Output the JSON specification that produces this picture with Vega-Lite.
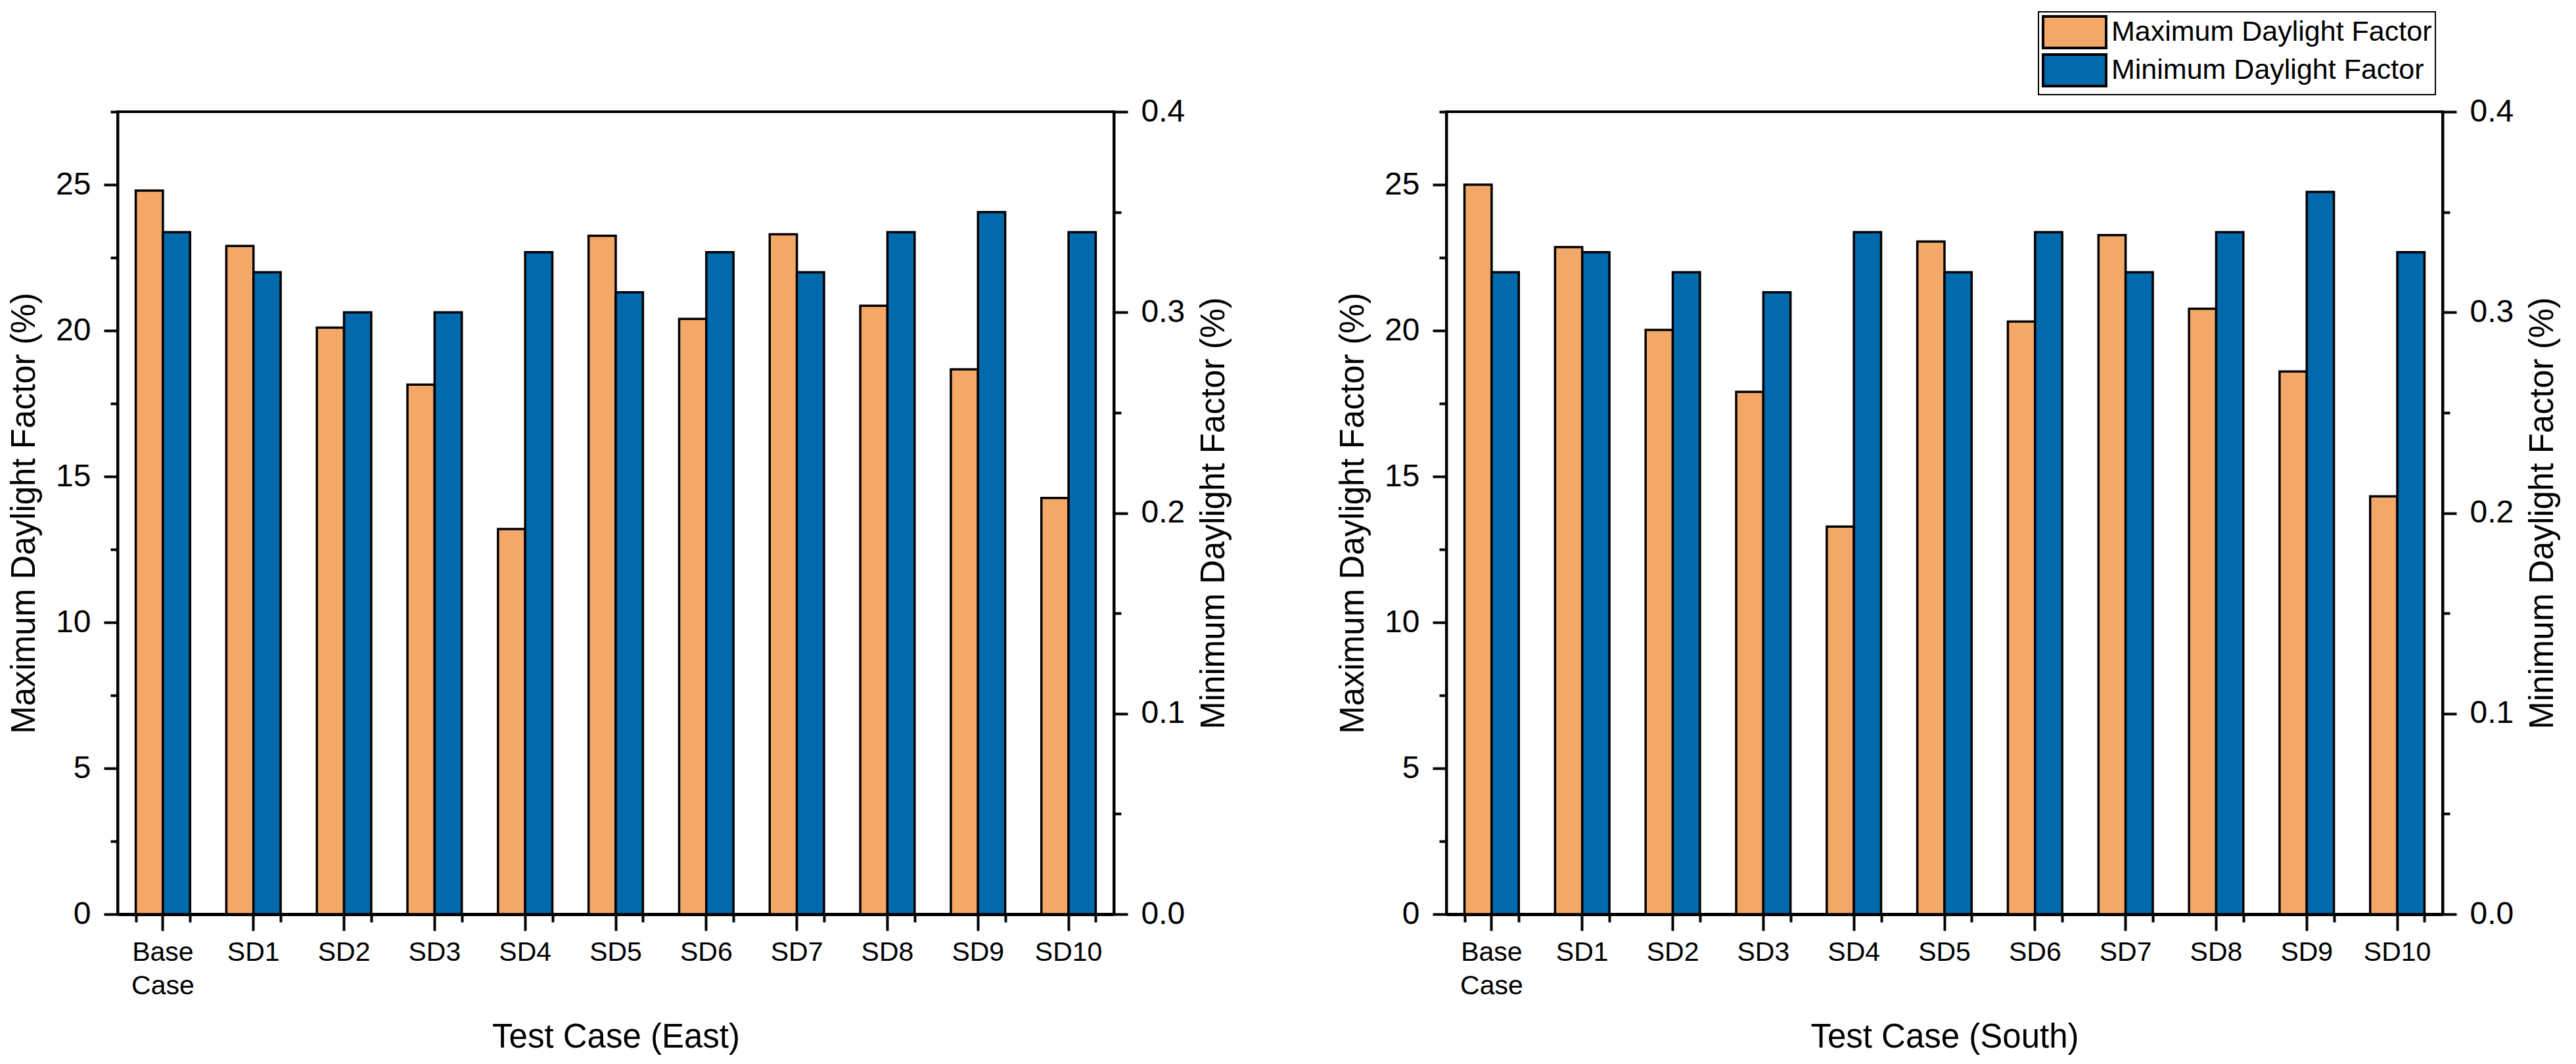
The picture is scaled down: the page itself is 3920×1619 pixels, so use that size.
{
  "$schema": "https://vega.github.io/schema/vega-lite/v6.json",
  "background": "white",
  "padding": {"left": 9, "top": 15, "right": 31, "bottom": 5},
  "spacing": 156,
  "datasets": {
    "east": [
      {"case": "Base Case", "series": "Maximum Daylight Factor", "value": 24.8},
      {"case": "SD1", "series": "Maximum Daylight Factor", "value": 22.9},
      {"case": "SD2", "series": "Maximum Daylight Factor", "value": 20.1},
      {"case": "SD3", "series": "Maximum Daylight Factor", "value": 18.15},
      {"case": "SD4", "series": "Maximum Daylight Factor", "value": 13.2},
      {"case": "SD5", "series": "Maximum Daylight Factor", "value": 23.25},
      {"case": "SD6", "series": "Maximum Daylight Factor", "value": 20.4},
      {"case": "SD7", "series": "Maximum Daylight Factor", "value": 23.3},
      {"case": "SD8", "series": "Maximum Daylight Factor", "value": 20.85},
      {"case": "SD9", "series": "Maximum Daylight Factor", "value": 18.67},
      {"case": "SD10", "series": "Maximum Daylight Factor", "value": 14.26},
      {"case": "Base Case", "series": "Minimum Daylight Factor", "value": 0.34},
      {"case": "SD1", "series": "Minimum Daylight Factor", "value": 0.32},
      {"case": "SD2", "series": "Minimum Daylight Factor", "value": 0.30},
      {"case": "SD3", "series": "Minimum Daylight Factor", "value": 0.30},
      {"case": "SD4", "series": "Minimum Daylight Factor", "value": 0.33},
      {"case": "SD5", "series": "Minimum Daylight Factor", "value": 0.31},
      {"case": "SD6", "series": "Minimum Daylight Factor", "value": 0.33},
      {"case": "SD7", "series": "Minimum Daylight Factor", "value": 0.32},
      {"case": "SD8", "series": "Minimum Daylight Factor", "value": 0.34},
      {"case": "SD9", "series": "Minimum Daylight Factor", "value": 0.35},
      {"case": "SD10", "series": "Minimum Daylight Factor", "value": 0.34}
    ],
    "south": [
      {"case": "Base Case", "series": "Maximum Daylight Factor", "value": 25.0},
      {"case": "SD1", "series": "Maximum Daylight Factor", "value": 22.86},
      {"case": "SD2", "series": "Maximum Daylight Factor", "value": 20.02},
      {"case": "SD3", "series": "Maximum Daylight Factor", "value": 17.9},
      {"case": "SD4", "series": "Maximum Daylight Factor", "value": 13.28},
      {"case": "SD5", "series": "Maximum Daylight Factor", "value": 23.05},
      {"case": "SD6", "series": "Maximum Daylight Factor", "value": 20.31},
      {"case": "SD7", "series": "Maximum Daylight Factor", "value": 23.27},
      {"case": "SD8", "series": "Maximum Daylight Factor", "value": 20.75},
      {"case": "SD9", "series": "Maximum Daylight Factor", "value": 18.6},
      {"case": "SD10", "series": "Maximum Daylight Factor", "value": 14.32},
      {"case": "Base Case", "series": "Minimum Daylight Factor", "value": 0.32},
      {"case": "SD1", "series": "Minimum Daylight Factor", "value": 0.33},
      {"case": "SD2", "series": "Minimum Daylight Factor", "value": 0.32},
      {"case": "SD3", "series": "Minimum Daylight Factor", "value": 0.31},
      {"case": "SD4", "series": "Minimum Daylight Factor", "value": 0.34},
      {"case": "SD5", "series": "Minimum Daylight Factor", "value": 0.32},
      {"case": "SD6", "series": "Minimum Daylight Factor", "value": 0.34},
      {"case": "SD7", "series": "Minimum Daylight Factor", "value": 0.32},
      {"case": "SD8", "series": "Minimum Daylight Factor", "value": 0.34},
      {"case": "SD9", "series": "Minimum Daylight Factor", "value": 0.36},
      {"case": "SD10", "series": "Minimum Daylight Factor", "value": 0.33}
    ]
  },
  "hconcat": [
    {
      "width": 1516,
      "height": 1221,
      "data": {"name": "east"},
      "layer": [
        {
          "transform": [{"filter": "datum.series === 'Maximum Daylight Factor'"}],
          "mark": {"type": "bar", "stroke": "black", "strokeWidth": 3.5},
          "encoding": {
            "x": {
              "field": "case", "type": "nominal",
              "sort": ["Base Case", "SD1", "SD2", "SD3", "SD4", "SD5", "SD6", "SD7", "SD8", "SD9", "SD10"],
              "scale": {"paddingInner": 0.4, "paddingOuter": 0.2},
              "axis": {
                "orient": "bottom", "title": "Test Case (East)", "titleFontSize": 51, "titlePadding": 33,
                "labelFontSize": 41, "labelPadding": 13, "labelAngle": 0, "labelLineHeight": 51,
                "labelExpr": "datum.label == 'Base Case' ? ['Base', 'Case'] : datum.label",
                "tickSize": 25, "tickWidth": 4, "domainWidth": 5
              }
            },
            "xOffset": {"field": "series", "scale": {"domain": ["Maximum Daylight Factor", "Minimum Daylight Factor"]}},
            "y": {
              "field": "value", "type": "quantitative",
              "scale": {"domain": [0, 27.5], "nice": false},
              "axis": {
                "orient": "left", "title": "Maximum Daylight Factor (%)", "titleFontSize": 51, "titlePadding": 21,
                "values": [0, 2.5, 5, 7.5, 10, 12.5, 15, 17.5, 20, 22.5, 25, 27.5],
                "labelExpr": "datum.value % 5 === 0 ? format(datum.value, 'd') : ''",
                "tickSize": {"condition": {"test": "datum.value % 5 === 0", "value": 21}, "value": 11},
                "labelFontSize": 48, "labelPadding": 20, "tickWidth": 4, "domainWidth": 4
              }
            },
            "color": {
              "field": "series",
              "scale": {"domain": ["Maximum Daylight Factor", "Minimum Daylight Factor"], "range": ["#F4A867", "#006AAD"]},
              "legend": null
            }
          }
        },
        {
          "transform": [{"filter": "datum.series === 'Minimum Daylight Factor'"}],
          "mark": {"type": "bar", "stroke": "black", "strokeWidth": 3.5},
          "encoding": {
            "x": {
              "field": "case", "type": "nominal",
              "sort": ["Base Case", "SD1", "SD2", "SD3", "SD4", "SD5", "SD6", "SD7", "SD8", "SD9", "SD10"],
              "axis": {"orient": "bottom", "tickBand": "extent", "labels": false, "title": null, "tickSize": 12, "tickWidth": 4, "domain": false}
            },
            "xOffset": {"field": "series", "scale": {"domain": ["Maximum Daylight Factor", "Minimum Daylight Factor"]}},
            "y": {
              "field": "value", "type": "quantitative",
              "scale": {"domain": [0, 0.4], "nice": false},
              "axis": {
                "orient": "right", "title": "Minimum Daylight Factor (%)", "titleFontSize": 51, "titlePadding": 20,
                "titleAngle": 270, "titleBaseline": "top",
                "values": [0, 0.05, 0.1, 0.15, 0.2, 0.25, 0.3, 0.35, 0.4],
                "labelExpr": "abs(datum.value * 10 - round(datum.value * 10)) < 0.001 ? format(datum.value, '.1f') : ''",
                "tickSize": {"condition": {"test": "abs(datum.value * 10 - round(datum.value * 10)) < 0.001", "value": 21}, "value": 11},
                "labelFontSize": 48, "labelPadding": 20, "tickWidth": 4, "domainWidth": 4
              }
            },
            "color": {
              "field": "series",
              "scale": {"domain": ["Maximum Daylight Factor", "Minimum Daylight Factor"], "range": ["#F4A867", "#006AAD"]},
              "legend": null
            }
          }
        }
      ],
      "resolve": {"scale": {"y": "independent"}, "axis": {"x": "independent"}}
    },
    {
      "width": 1516,
      "height": 1221,
      "data": {"name": "south"},
      "layer": [
        {
          "transform": [{"filter": "datum.series === 'Maximum Daylight Factor'"}],
          "mark": {"type": "bar", "stroke": "black", "strokeWidth": 3.5},
          "encoding": {
            "x": {
              "field": "case", "type": "nominal",
              "sort": ["Base Case", "SD1", "SD2", "SD3", "SD4", "SD5", "SD6", "SD7", "SD8", "SD9", "SD10"],
              "scale": {"paddingInner": 0.4, "paddingOuter": 0.2},
              "axis": {
                "orient": "bottom", "title": "Test Case (South)", "titleFontSize": 51, "titlePadding": 33,
                "labelFontSize": 41, "labelPadding": 13, "labelAngle": 0, "labelLineHeight": 51,
                "labelExpr": "datum.label == 'Base Case' ? ['Base', 'Case'] : datum.label",
                "tickSize": 25, "tickWidth": 4, "domainWidth": 5
              }
            },
            "xOffset": {"field": "series", "scale": {"domain": ["Maximum Daylight Factor", "Minimum Daylight Factor"]}},
            "y": {
              "field": "value", "type": "quantitative",
              "scale": {"domain": [0, 27.5], "nice": false},
              "axis": {
                "orient": "left", "title": "Maximum Daylight Factor (%)", "titleFontSize": 51, "titlePadding": 21,
                "values": [0, 2.5, 5, 7.5, 10, 12.5, 15, 17.5, 20, 22.5, 25, 27.5],
                "labelExpr": "datum.value % 5 === 0 ? format(datum.value, 'd') : ''",
                "tickSize": {"condition": {"test": "datum.value % 5 === 0", "value": 21}, "value": 11},
                "labelFontSize": 48, "labelPadding": 20, "tickWidth": 4, "domainWidth": 4
              }
            },
            "color": {
              "field": "series",
              "scale": {"domain": ["Maximum Daylight Factor", "Minimum Daylight Factor"], "range": ["#F4A867", "#006AAD"]},
              "legend": {
                "orient": "none", "legendX": 901, "legendY": -152, "title": null,
                "symbolType": "M-2,-1H2V1H-2Z", "symbolSize": 2304, "symbolOffset": 24,
                "symbolStrokeColor": "black", "symbolStrokeWidth": 4, "symbolOpacity": 1,
                "labelFontSize": 43, "labelOffset": 30, "labelLimit": 0, "rowPadding": -17,
                "padding": 5, "strokeColor": "black", "fillColor": "white"
              }
            }
          }
        },
        {
          "transform": [{"filter": "datum.series === 'Minimum Daylight Factor'"}],
          "mark": {"type": "bar", "stroke": "black", "strokeWidth": 3.5},
          "encoding": {
            "x": {
              "field": "case", "type": "nominal",
              "sort": ["Base Case", "SD1", "SD2", "SD3", "SD4", "SD5", "SD6", "SD7", "SD8", "SD9", "SD10"],
              "axis": {"orient": "bottom", "tickBand": "extent", "labels": false, "title": null, "tickSize": 12, "tickWidth": 4, "domain": false}
            },
            "xOffset": {"field": "series", "scale": {"domain": ["Maximum Daylight Factor", "Minimum Daylight Factor"]}},
            "y": {
              "field": "value", "type": "quantitative",
              "scale": {"domain": [0, 0.4], "nice": false},
              "axis": {
                "orient": "right", "title": "Minimum Daylight Factor (%)", "titleFontSize": 51, "titlePadding": 20,
                "titleAngle": 270, "titleBaseline": "top",
                "values": [0, 0.05, 0.1, 0.15, 0.2, 0.25, 0.3, 0.35, 0.4],
                "labelExpr": "abs(datum.value * 10 - round(datum.value * 10)) < 0.001 ? format(datum.value, '.1f') : ''",
                "tickSize": {"condition": {"test": "abs(datum.value * 10 - round(datum.value * 10)) < 0.001", "value": 21}, "value": 11},
                "labelFontSize": 48, "labelPadding": 20, "tickWidth": 4, "domainWidth": 4
              }
            },
            "color": {
              "field": "series",
              "scale": {"domain": ["Maximum Daylight Factor", "Minimum Daylight Factor"], "range": ["#F4A867", "#006AAD"]}
            }
          }
        }
      ],
      "resolve": {"scale": {"y": "independent"}, "axis": {"x": "independent"}}
    }
  ],
  "resolve": {"scale": {"color": "independent"}, "legend": {"color": "independent"}},
  "config": {
    "font": "Liberation Sans",
    "view": {"stroke": "black", "strokeWidth": 4},
    "axis": {
      "labelFont": "Liberation Sans", "titleFont": "Liberation Sans", "titleFontWeight": "normal",
      "labelColor": "black", "titleColor": "black", "domainColor": "black", "tickColor": "black",
      "grid": false, "labelOverlap": false, "labelFlush": false, "labelBound": false
    },
    "legend": {"labelFont": "Liberation Sans", "labelColor": "black", "strokeWidth": 2}
  }
}
